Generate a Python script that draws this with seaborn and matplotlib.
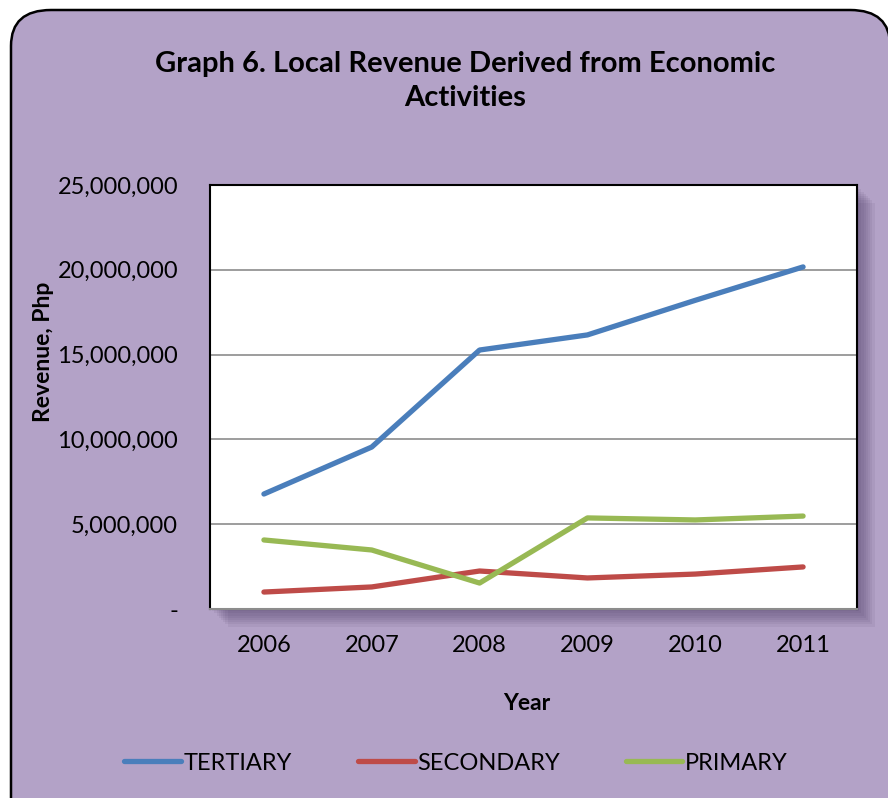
import pandas as pd
import matplotlib.pyplot as plt
import seaborn as sns
from matplotlib.patches import FancyBboxPatch, Rectangle
from matplotlib.ticker import FuncFormatter

# Data
years = ["2006", "2007", "2008", "2009", "2010", "2011"]
tertiary = [6780000, 9550000, 15270000, 16160000, 18200000, 20170000]
secondary = [1000000, 1300000, 2240000, 1830000, 2060000, 2480000]
primary = [4070000, 3480000, 1530000, 5370000, 5250000, 5480000]

series_names = ["TERTIARY", "SECONDARY", "PRIMARY"]
colors = ["#4A7EBB", "#BE4B48", "#98B954"]

df = pd.DataFrame({
    "Year": years * 3,
    "Revenue": tertiary + secondary + primary,
    "Sector": [n for n in series_names for _ in years],
})

sns.set_style("white")
plt.rcParams["font.family"] = ["Lato", "DejaVu Sans"]
plt.rcParams["text.color"] = "black"

bg = "#B3A2C7"
fig = plt.figure(figsize=(8.88, 7.98), dpi=100)
fig.patch.set_facecolor("white")

# rounded frame
frame = FancyBboxPatch((11 / 888, -0.05), 0.99, 1 - 10 / 798 + 0.05,
                       boxstyle="round,pad=0,rounding_size=0.045",
                       transform=fig.transFigure, facecolor=bg,
                       edgecolor="black", linewidth=1.8, zorder=0)
fig.patches.append(frame)

left, right, bottom, top = 210 / 888, 857 / 888, 1 - 609 / 798, 1 - 185 / 798
# soft shadow behind plot area
for i in range(8):
    off = (i + 1) * 2.2
    fig.patches.append(Rectangle((left + off / 888, bottom - off / 798),
                                 right - left, top - bottom,
                                 transform=fig.transFigure, facecolor="#3a2a55",
                                 alpha=0.07, edgecolor="none", zorder=0.5))

ax = fig.add_axes([left, bottom, right - left, top - bottom], zorder=2)
ax.set_facecolor("white")

sns.lineplot(data=df, x="Year", y="Revenue", hue="Sector", palette=colors,
             linewidth=3.8, ax=ax, legend=False, sort=False)
for ln in ax.lines:
    ln.set_solid_capstyle("round")
    ln.set_solid_joinstyle("round")

ax.set_xlim(-0.5, 5.5)
ax.set_ylim(0, 25000000)
ax.set_yticks(range(0, 25000001, 5000000))
ax.yaxis.set_major_formatter(FuncFormatter(lambda v, p: "-" if v == 0 else f"{int(v):,}"))
ax.grid(axis="y", color="#8c8c8c", linewidth=1.2)
ax.set_axisbelow(True)
for s in ["top", "right", "left"]:
    ax.spines[s].set_color("black")
    ax.spines[s].set_linewidth(1.5)
ax.spines["bottom"].set_color("#8c8c8c")
ax.spines["bottom"].set_linewidth(1.5)
ax.tick_params(axis="both", length=0, labelsize=17, colors="black")
ax.tick_params(axis="y", pad=23)
ax.tick_params(axis="x", pad=19)
ax.set_xlabel("")
ax.set_ylabel("")

fig.text(527 / 888, 1 - 703 / 798, "Year", ha="center", va="center",
         fontsize=16.5, fontweight="bold")
fig.text(43 / 888, 1 - 352 / 798, "Revenue, Php", ha="center", va="center",
         rotation=90, fontsize=16.5, fontweight="bold")
fig.text(465 / 888, 1 - 81 / 798,
         "Graph 6. Local Revenue Derived from Economic\nActivities",
         ha="center", va="center", fontsize=21, fontweight="bold",
         linespacing=1.35)

handles = [plt.Line2D([], [], color=c, linewidth=3.8, solid_capstyle="round")
           for c in colors]
fig.legend(handles, series_names, loc="center", ncol=3,
           bbox_to_anchor=(456 / 888, 1 - 763 / 798), frameon=False,
           fontsize=17, handlelength=2.4, handletextpad=0.1,
           columnspacing=2.8)

fig.savefig("out.png", dpi=100, facecolor=fig.get_facecolor())
